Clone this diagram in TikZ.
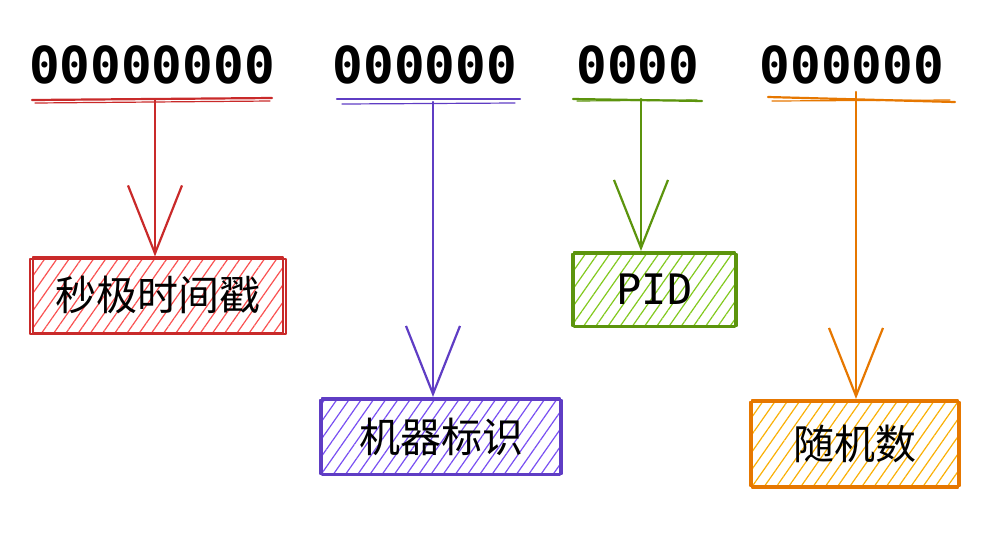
\documentclass[tikz,border=0pt]{standalone}
\usepackage{fontspec}
\usetikzlibrary{arrows.meta,patterns.meta}
\newfontfamily\monofont{DejaVu Sans Mono}
\newfontfamily\cjk{Noto Sans CJK SC}

\definecolor{sketchred}{HTML}{C92A2A}
\definecolor{sketchviolet}{HTML}{5F3DC4}
\definecolor{sketchgreen}{HTML}{5C940D}
\definecolor{sketchorange}{HTML}{E67700}
\definecolor{hatchred}{HTML}{FA5252}
\definecolor{hatchviolet}{HTML}{7950F2}
\definecolor{hatchgreen}{HTML}{82C91E}
\definecolor{hatchorange}{HTML}{FAB005}

\tikzset{
  bits/.style={font=\monofont\bfseries\fontsize{25.5}{26}\selectfont,inner sep=0pt},
  field/.style 2 args={draw=#1,line width=1.1pt,
    pattern={Lines[angle=55,distance=5pt,line width=0.6pt]},pattern color=#2,
    inner sep=0pt,font=\cjk\fontsize{20.5}{21}\selectfont},
  rule/.style={draw=#1,line width=1.1pt,line cap=round},
  pointer/.style={draw=#1,line width=1.1pt,line cap=round,
    -{Straight Barb[length=34pt,width=27pt,line width=1.1pt]}}
}

\begin{document}
\begin{tikzpicture}[x=0.5pt,y=-0.5pt,line join=round]
  \useasboundingbox (0,0) rectangle (998,532);

  % digit groups
  \node[bits] (sec)  at (152,65) {00000000};
  \node[bits] (mach) at (425,65) {000000};
  \node[bits] (pid)  at (638,65) {0000};
  \node[bits] (rand) at (852,65) {000000};

  % fields
  \node[field={sketchred}{hatchred},minimum width=125pt,minimum height=38pt]
    (secbox) at (158,295) {秒极时间戳};
  \node[field={sketchviolet}{hatchviolet},minimum width=119pt,minimum height=38.5pt]
    (machbox) at (441,436.5) {机器标识};
  \node[field={sketchgreen}{hatchgreen},minimum width=80.5pt,minimum height=37.5pt,
    font=\monofont\fontsize{21}{21}\selectfont]
    (pidbox) at (654.5,289.5) {PID};
  \node[field={sketchorange}{hatchorange},minimum width=103pt,minimum height=44pt]
    (randbox) at (855,444) {随机数};

  % second strokes for the hand-drawn look
  \draw[sketchred,line width=0.6pt] (30,259) rectangle (286,334);
  \draw[sketchviolet,line width=0.6pt] (320,400) rectangle (562,474);
  \draw[sketchgreen,line width=0.6pt] (572,254) rectangle (737,326);
  \draw[sketchorange,line width=0.6pt] (750,402) rectangle (960,486);

  % underlines
  \coordinate (sectop) at (155,100);
  \draw[rule=sketchred] (32,100) -- (272,98);
  \draw[rule=sketchred,line width=0.6pt] (35,103) -- (270,101);
  \coordinate (machtop) at (433,102);
  \draw[rule=sketchviolet] (337,99) -- (520,99);
  \draw[rule=sketchviolet,line width=0.6pt] (342,104) -- (515,103);
  \coordinate (pidtop) at (641,99);
  \draw[rule=sketchgreen] (573,99) -- (702,101);
  \draw[rule=sketchgreen,line width=0.6pt] (577,101) -- (697,100);
  \coordinate (randtop) at (856,92);
  \draw[rule=sketchorange] (768,97) -- (955,102);
  \draw[rule=sketchorange,line width=0.6pt] (772,101) -- (950,100);

  % pointers
  \draw[pointer=sketchred] (sectop) -- (sectop |- secbox.north);
  \draw[pointer=sketchviolet] (machtop) -- (machtop |- machbox.north);
  \draw[pointer=sketchgreen] (pidtop) -- (pidtop |- pidbox.north);
  \draw[pointer=sketchorange] (randtop) -- (randtop |- randbox.north);
\end{tikzpicture}
\end{document}
